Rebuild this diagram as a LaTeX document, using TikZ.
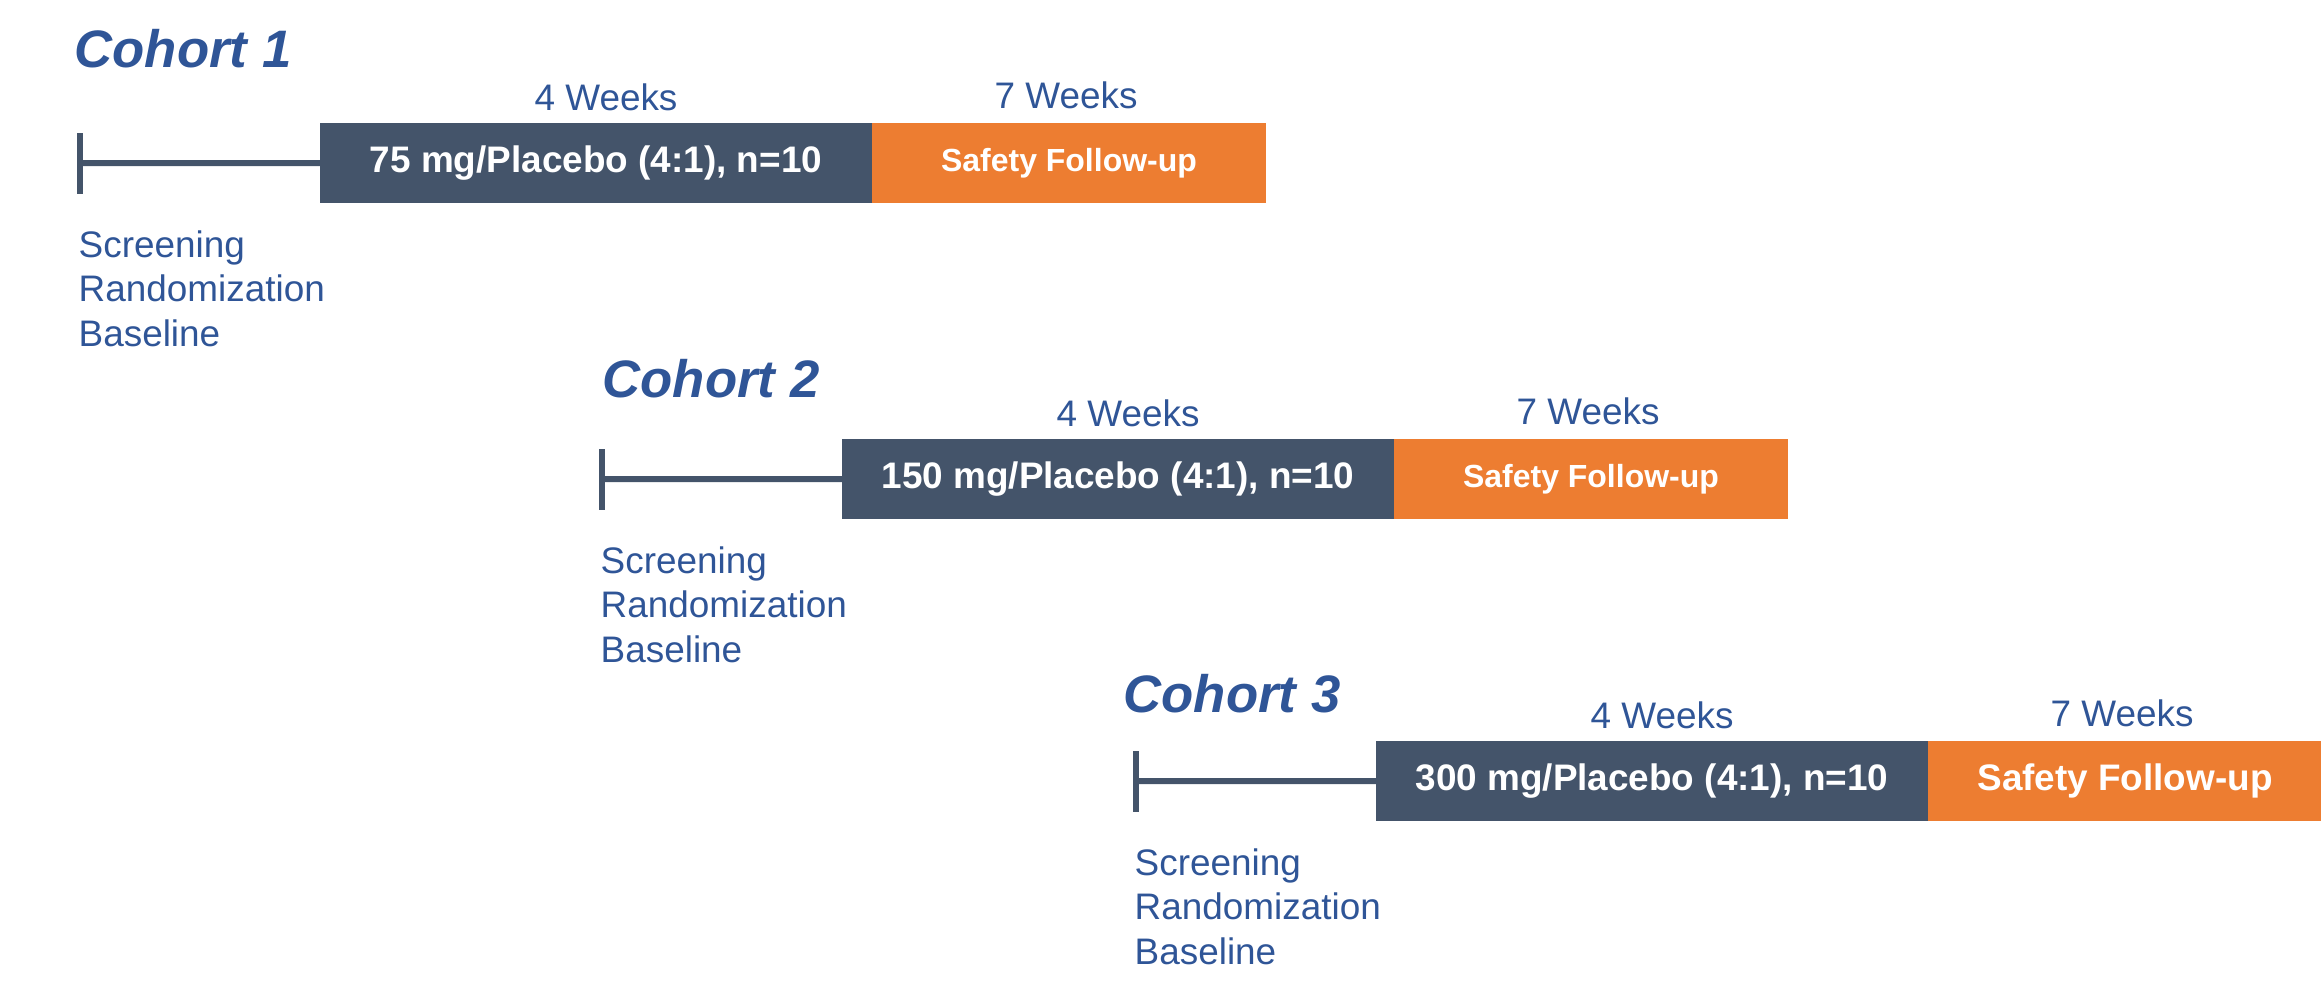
\documentclass[tikz,border=0pt]{standalone}
\usepackage{fontspec}
\setmainfont{Liberation Sans}
\usetikzlibrary{arrows.meta}
\definecolor{cohblue}{HTML}{2F5597}
\definecolor{slate}{HTML}{44546A}
\definecolor{orng}{HTML}{ED7D31}
\tikzset{
  cohorttitle/.style={anchor=base west,inner sep=0pt,text=cohblue,font=\fontsize{15}{18}\selectfont\bfseries\itshape},
  weeks/.style={anchor=base,inner sep=0pt,text=cohblue,font=\fontsize{10.5}{12.6}\selectfont},
  visits/.style={anchor=base west,inner sep=0pt,align=left,text=cohblue,font=\fontsize{10.5}{12.66}\selectfont},
  dosebox/.style={anchor=north west,fill=slate,text=white,inner sep=0pt,outer sep=0pt,minimum width=55.2mm,minimum height=8mm,font=\fontsize{10.5}{12.6}\selectfont\bfseries},
  safebox/.style={anchor=west,fill=orng,text=white,inner sep=0pt,outer sep=0pt,minimum width=39.4mm,minimum height=8mm,font=\fontsize{9.1}{11}\selectfont\bfseries},
  safebig/.style={safebox,font=\fontsize{10.5}{12.6}\selectfont\bfseries},
  startbar/.style={{Bar[width=6.1mm]}-,line width=0.6mm,draw=slate}
}
\begin{document}
\begin{tikzpicture}[x=0.1mm,y=-0.1mm]
  \useasboundingbox (0,0) rectangle (2321,988);

  % cohort 1
  \node[cohorttitle] (coh1) at (74,67) {Cohort 1};
  \node[dosebox] (dose1) at (320,123) {75 mg/Placebo (4:1), n=10};
  \node[safebox] (safe1) at (dose1.east) {Safety Follow-up};
  \node[weeks] (wk1a) at (606,110) {4 Weeks};
  \node[weeks] (wk1b) at (1066,108) {7 Weeks};
  \coordinate (scr1) at (77,163);
  \draw[startbar] (scr1) -- (dose1.west);
  \node[visits] (vis1) at (78,346) {Screening\\Randomization\\Baseline};

  % cohort 2
  \node[cohorttitle] (coh2) at (602,397) {Cohort 2};
  \node[dosebox] (dose2) at (842,439) {150 mg/Placebo (4:1), n=10};
  \node[safebox] (safe2) at (dose2.east) {Safety Follow-up};
  \node[weeks] (wk2a) at (1128,426) {4 Weeks};
  \node[weeks] (wk2b) at (1588,424) {7 Weeks};
  \coordinate (scr2) at (599,479);
  \draw[startbar] (scr2) -- (dose2.west);
  \node[visits] (vis2) at (600,662) {Screening\\Randomization\\Baseline};

  % cohort 3
  \node[cohorttitle] (coh3) at (1123,712) {Cohort 3};
  \node[dosebox] (dose3) at (1376,741) {300 mg/Placebo (4:1), n=10};
  \node[safebig] (safe3) at (dose3.east) {Safety Follow-up};
  \node[weeks] (wk3a) at (1662,728) {4 Weeks};
  \node[weeks] (wk3b) at (2122,726) {7 Weeks};
  \coordinate (scr3) at (1133,781);
  \draw[startbar] (scr3) -- (dose3.west);
  \node[visits] (vis3) at (1134,964) {Screening\\Randomization\\Baseline};
\end{tikzpicture}
\end{document}
